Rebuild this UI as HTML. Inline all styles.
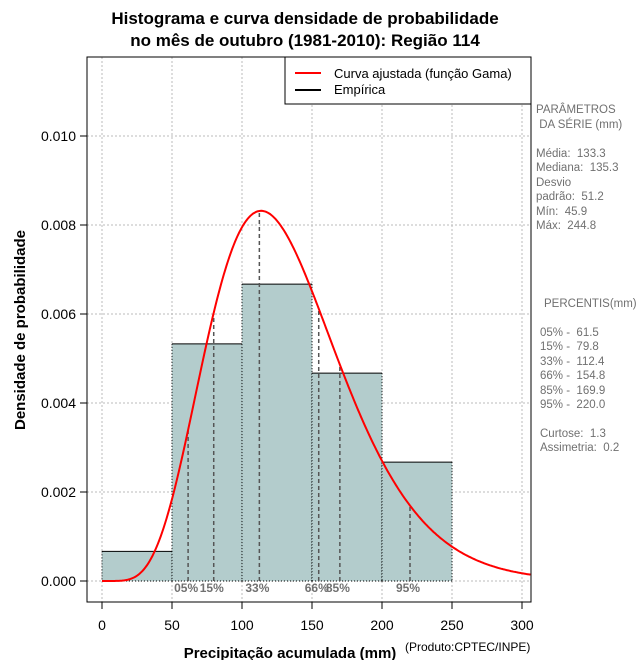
<!DOCTYPE html>
<html><head><meta charset="utf-8"><style>
body{margin:0;background:#fff;width:640px;height:660px;overflow:hidden}
svg text{font-family:"Liberation Sans",sans-serif;white-space:pre}
</style></head><body>
<svg id="c" width="640" height="660" xmlns="http://www.w3.org/2000/svg">
<text x="305" y="24" text-anchor="middle" font-size="17" font-weight="bold">Histograma e curva densidade de probabilidade</text>
<text x="305" y="46" text-anchor="middle" font-size="17" font-weight="bold">no mês de outubro (1981-2010): Região 114</text>
<g id="grid"></g>
<g id="bars"></g>
<g id="pct"></g>
<path id="curve" fill="none" stroke="#ff0000" stroke-width="2"/>
<rect x="87" y="57" width="444" height="545" fill="none" stroke="#000"/>
<g id="axes"></g>
<g>
<rect x="285" y="57" width="246" height="47" fill="#fff" stroke="#000"/>
<line x1="295" y1="73" x2="321" y2="73" stroke="#ff0000" stroke-width="2"/>
<text x="334" y="78" font-size="13">Curva ajustada (função Gama)</text>
<line x1="295" y1="90" x2="321" y2="90" stroke="#000" stroke-width="2"/>
<text x="334" y="94" font-size="13">Empírica</text>
</g>
<g font-size="11.5" fill="#707070">
<text x="536" y="113">PARÂMETROS</text><text x="536" y="128"> DA SÉRIE (mm)</text>
<text x="536" y="157">Média:  133.3</text><text x="536" y="171">Mediana:  135.3</text>
<text x="536" y="186">Desvio</text><text x="536" y="200">padrão:  51.2</text>
<text x="536" y="215">Mín:  45.9</text><text x="536" y="229">Máx:  244.8</text>
<text x="544" y="307">PERCENTIS(mm)</text>
<text x="540" y="336">05% -  61.5</text><text x="540" y="350">15% -  79.8</text>
<text x="540" y="365">33% -  112.4</text><text x="540" y="379">66% -  154.8</text>
<text x="540" y="394">85% -  169.9</text><text x="540" y="408">95% -  220.0</text>
<text x="540" y="437">Curtose:  1.3</text><text x="540" y="451">Assimetria:  0.2</text>
</g>
<text x="290" y="658" text-anchor="middle" font-size="15" font-weight="bold">Precipitação acumulada (mm)</text>
<text x="405" y="651" font-size="12">(Produto:CPTEC/INPE)</text>
<text transform="translate(25,330) rotate(-90)" text-anchor="middle" font-size="15" font-weight="bold">Densidade de probabilidade</text>
</svg>
<script>
const binEdges=[0,50,100,150,200,250];
const densities=[0.000667,0.00533,0.00667,0.00467,0.00267];
const xTicks=[0,50,100,150,200,250,300];
const yTicks=[0,0.002,0.004,0.006,0.008,0.010];
const yTickLabels=["0.000","0.002","0.004","0.006","0.008","0.010"];
const pctValues=[61.5,79.8,112.4,154.8,169.9,220.0];
const pctLabels=["05%","15%","33%","66%","85%","95%"];
const gammaMean=133.3, gammaSd=51.2;
const NS="http://www.w3.org/2000/svg";
const X=v=>102+v*1.4, Y=v=>581-v*44500;
function mk(t,a,p){const e=document.createElementNS(NS,t);for(const k in a)e.setAttribute(k,a[k]);p.appendChild(e);return e;}
function lgam(z){const g=7,c=[0.99999999999980993,676.5203681218851,-1259.1392167224028,771.32342877765313,-176.61502916214059,12.507343278686905,-0.13857109526572012,9.9843695780195716e-6,1.5056327351493116e-7];z-=1;let x=c[0];for(let i=1;i<9;i++)x+=c[i]/(z+i);const t=z+g+0.5;return 0.5*Math.log(2*Math.PI)+(z+0.5)*Math.log(t)-t+Math.log(x);}
const k=(gammaMean/gammaSd)**2, th=gammaSd*gammaSd/gammaMean;
const pdf=x=>x<=0?0:Math.exp((k-1)*Math.log(x)-x/th-lgam(k)-k*Math.log(th));
const grid=document.getElementById('grid'),bars=document.getElementById('bars'),pct=document.getElementById('pct'),axes=document.getElementById('axes');
xTicks.forEach(v=>{const l=mk('line',{x1:X(v),x2:X(v),y1:57,y2:602,stroke:'#bbb','stroke-dasharray':'2,2'},grid);

});
yTicks.forEach(v=>{const l=mk('line',{x1:87,x2:531,y1:Y(v),y2:Y(v),stroke:'#bbb','stroke-dasharray':'2,2'},grid);

});
densities.forEach((d,i)=>{const x0=X(binEdges[i]),x1=X(binEdges[i+1]);
const r=mk('rect',{x:x0,y:Y(d),width:x1-x0,height:Y(0)-Y(d),fill:'#b3cccc'},bars);


mk('line',{x1:x0,x2:x1,y1:Y(d),y2:Y(d),stroke:'#000'},bars);
mk('line',{x1:x0,x2:x0,y1:Y(d),y2:Y(0),stroke:'#000','stroke-dasharray':'1,2'},bars);
mk('line',{x1:x1,x2:x1,y1:Y(d),y2:Y(0),stroke:'#000','stroke-dasharray':'1,2'},bars);
mk('line',{x1:x0,x2:x1,y1:Y(0),y2:Y(0),stroke:'#000','stroke-dasharray':'1,2'},bars);});
pctValues.forEach((v,i)=>{const l=mk('line',{x1:X(v),x2:X(v),y1:Y(0),y2:Y(pdf(v)),stroke:'#555','stroke-width':1.5,'stroke-dasharray':'4,3'},pct);


const t=mk('text',{x:X(v)-14,y:Y(0)+11,'font-size':12,'font-weight':'bold',fill:'#707070'},pct);t.textContent=pctLabels[i];

});
let d='';for(let x=0;x<=306;x+=1){d+=(x?'L':'M')+X(x).toFixed(1)+','+Y(pdf(x)).toFixed(1);}
document.getElementById('curve').setAttribute('d',d);
xTicks.forEach(v=>{mk('line',{x1:X(v),x2:X(v),y1:602,y2:609,stroke:'#000'},axes);const t=mk('text',{x:X(v),y:630,'text-anchor':'middle','font-size':14},axes);t.textContent=v;

});
yTicks.forEach((v,i)=>{mk('line',{x1:80,x2:87,y1:Y(v),y2:Y(v),stroke:'#000'},axes);const t=mk('text',{x:76,y:Y(v)+5,'text-anchor':'end','font-size':14},axes);t.textContent=yTickLabels[i];

});
</script>
</body></html>
